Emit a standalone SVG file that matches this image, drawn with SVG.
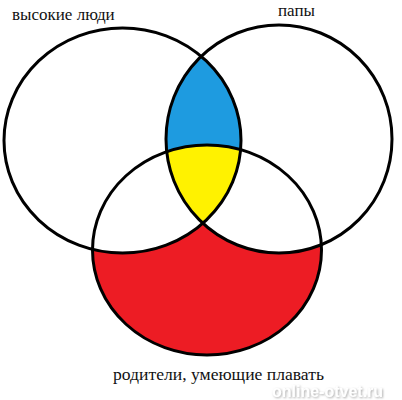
<svg xmlns="http://www.w3.org/2000/svg" width="402" height="400" viewBox="0 0 402 400">
  <style>
    .outline { fill: none; stroke: #000; stroke-width: 3; }
    .label { font-family: "Liberation Serif", "Times New Roman", serif; font-size: 17px; fill: #111; }
    .wm { font-family: "Liberation Sans", Arial, sans-serif; font-weight: bold; font-size: 16px; fill: #fff; }
  </style>
  <defs>
    <clipPath id="clipL"><ellipse cx="122.5" cy="140.5" rx="118.5" ry="112.5"/></clipPath>
    <clipPath id="clipR"><ellipse cx="279" cy="139" rx="113" ry="114"/></clipPath>
    <filter id="shadow" x="-10%" y="-30%" width="120%" height="160%">
      <feDropShadow dx="1" dy="1" stdDeviation="1.2" flood-color="#999" flood-opacity="0.8"/>
    </filter>
  </defs>
  <rect width="402" height="400" fill="#fff"/>
  <g id="regions">
    <ellipse cx="207" cy="250" rx="114.5" ry="105" fill="#ED1C24"/>
    <ellipse cx="122.5" cy="140.5" rx="118.5" ry="112.5" fill="#fff"/>
    <ellipse cx="279" cy="139" rx="113" ry="114" fill="#fff"/>
    <g clip-path="url(#clipL)">
      <ellipse cx="279" cy="139" rx="113" ry="114" fill="#1E9BE0"/>
      <g clip-path="url(#clipR)">
        <ellipse cx="207" cy="250" rx="114.5" ry="105" fill="#FFF200"/>
      </g>
    </g>
  </g>
  <g id="node-tall">
    <ellipse class="outline" cx="122.5" cy="140.5" rx="118.5" ry="112.5"/>
    <text class="label" x="12" y="20">высокие люди</text>
  </g>
  <g id="node-dads">
    <ellipse class="outline" cx="279" cy="139" rx="113" ry="114"/>
    <text class="label" x="278" y="16">папы</text>
  </g>
  <g id="node-swimmers">
    <ellipse class="outline" cx="207" cy="250" rx="114.5" ry="105"/>
    <text class="label" x="113" y="380" style="font-size:17.6px">родители, умеющие плавать</text>
  </g>
  <g id="connectors"></g>
  <text class="wm" x="272" y="397" filter="url(#shadow)">online-otvet.ru</text>
</svg>
